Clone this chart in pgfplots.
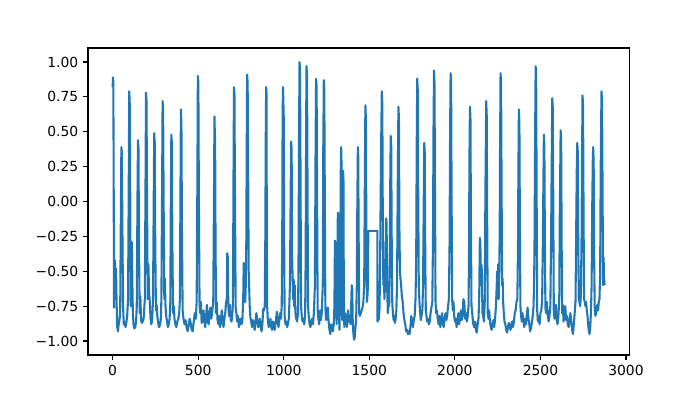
\documentclass[border=0pt]{standalone}
\usepackage{pgfplots}
\pgfplotsset{compat=1.18}
\usepackage{fontspec}
\setmainfont{DejaVu Sans}
\definecolor{tabblue}{HTML}{1F77B4}
\begin{document}
\begin{tikzpicture}
\path[use as bounding box] (-63.36pt,-32.4pt) rectangle (440.64pt,255.6pt);
\begin{axis}[
  at={(0,0)}, anchor=south west,
  scale only axis, width=389.7pt, height=221pt,
  xmin=-144, xmax=3019, ymin=-1.1, ymax=1.1,
  axis line style={line width=0.8pt},
  tick style={line width=0.8pt, black},
  tick align=outside, major tick length=3.5pt,
  xtick pos=bottom, ytick pos=left,
  xtick={0,500,1000,1500,2000,2500,3000},
  xticklabels={0,500,1000,1500,2000,2500,3000},
  ytick={-1,-0.75,-0.5,-0.25,0,0.25,0.5,0.75,1},
  yticklabels={−1.00,−0.75,−0.50,−0.25,0.00,0.25,0.50,0.75,1.00},
  ticklabel style={font=\fontsize{10}{12}\selectfont},
]
\addplot[line width=1.5pt, color=tabblue, line join=round, no markers] coordinates {
(0,0.82) (2,0.89) (4,0.86) (6,0.2) (8,-0.76) (11,-0.62) (14,-0.42) (17,-0.6) (20,-0.48) (23,-0.72) (27,-0.9) (31,-0.93) (35,-0.88) (40,-0.85)
(44,-0.8) (48,-0.1) (51,0.39) (54,0.35) (57,-0.2) (61,-0.75) (65,-0.88) (70,-0.86) (75,-0.9) (80,-0.87) (85,-0.82)
(90,-0.7) (94,0.1) (97,0.79) (100,0.7) (103,0.0) (106,-0.75) (109,-0.5) (112,-0.29) (115,-0.55) (118,-0.8) (122,-0.88) (127,-0.91) (132,-0.9) (137,-0.86)
(141,-0.75) (145,0.0) (148,0.44) (151,0.38) (154,-0.3) (158,-0.8) (162,-0.68) (166,-0.85) (171,-0.87) (176,-0.86) (181,-0.84)
(188,-0.7) (192,0.1) (195,0.78) (198,0.72) (201,0.0) (205,-0.7) (209,-0.45) (213,-0.65) (217,-0.72) (221,-0.83) (226,-0.88) (231,-0.85)
(236,-0.7) (240,0.0) (243,0.49) (246,0.42) (249,-0.3) (253,-0.78) (257,-0.74) (261,-0.82) (266,-0.87) (271,-0.9) (276,-0.89) (281,-0.85)
(285,-0.7) (289,0.1) (292,0.72) (295,0.65) (298,0.0) (302,-0.7) (305,-0.55) (309,-0.75) (313,-0.82) (318,-0.86) (323,-0.9) (328,-0.88) (333,-0.84)
(337,-0.72) (340,0.0) (343,0.48) (346,0.42) (349,-0.3) (353,-0.8) (357,-0.75) (362,-0.85) (367,-0.88) (372,-0.9) (378,-0.86) (384,-0.84) (389,-0.8)
(393,-0.7) (396,0.0) (399,0.66) (402,0.55) (405,-0.2) (409,-0.78) (414,-0.84) (420,-0.88) (426,-0.85) (432,-0.9) (438,-0.93) (444,-0.89) (450,-0.84) (456,-0.87) (462,-0.92) (468,-0.93) (474,-0.86) (480,-0.8) (486,-0.84)
(491,-0.72) (495,0.1) (498,0.90) (501,0.85) (504,0.0) (508,-0.75) (512,-0.8) (516,-0.72) (520,-0.87) (526,-0.85) (531,-0.78) (536,-0.86) (541,-0.9) (546,-0.82) (551,-0.74) (556,-0.86) (561,-0.88) (566,-0.8) (571,-0.76) (576,-0.84) (581,-0.8)
(588,-0.72) (592,0.0) (595,0.61) (597,0.5) (599,0.42) (601,-0.2) (604,-0.8) (608,-0.72) (613,-0.85) (618,-0.88) (623,-0.82) (628,-0.9) (633,-0.85) (638,-0.78) (643,-0.86) (648,-0.9) (653,-0.84) (658,-0.8) (663,-0.72)
(667,-0.7) (670,-0.37) (673,-0.4) (676,-0.75) (680,-0.82) (685,-0.74) (690,-0.85) (695,-0.86) (700,-0.8)
(703,-0.72) (706,0.1) (709,0.82) (712,0.76) (715,0.0) (719,-0.76) (723,-0.8) (728,-0.86) (733,-0.82) (738,-0.9) (743,-0.87) (748,-0.84) (753,-0.88) (758,-0.86) (763,-0.7)
(766,-0.44) (769,-0.46) (772,-0.55) (775,-0.72) (778,-0.6) (781,-0.3) (784,0.5) (786,0.91) (789,0.85) (792,0.2) (795,-0.5) (798,-0.62) (801,-0.75) (805,-0.83) (810,-0.86) (815,-0.9) (820,-0.85) (825,-0.88) (830,-0.92) (835,-0.86) (840,-0.8) (845,-0.85) (850,-0.9) (855,-0.88) (860,-0.84) (865,-0.9) (870,-0.93) (875,-0.88) (880,-0.77) (885,-0.78) (889,-0.75)
(892,-0.3) (895,0.5) (897,0.82) (899,0.78) (901,-0.2) (903,-0.75) (907,-0.85) (912,-0.9) (917,-0.88) (922,-0.84) (927,-0.9) (932,-0.92) (937,-0.86) (942,-0.88) (947,-0.92) (952,-0.87) (957,-0.82) (960,-0.79) (964,-0.86) (969,-0.9) (974,-0.85) (979,-0.8) (984,-0.84) (988,-0.75)
(991,-0.3) (993,0.5) (995,0.82) (997,0.75) (1000,0.6) (1002,-0.2) (1005,-0.82) (1010,-0.88) (1015,-0.86) (1020,-0.9) (1025,-0.87) (1030,-0.84) (1036,-0.6)
(1040,0.0) (1043,0.43) (1046,0.38) (1049,-0.4) (1052,-0.55) (1055,-0.7) (1058,-0.56) (1061,-0.75) (1064,-0.6) (1068,-0.8) (1073,-0.84) (1078,-0.86) (1083,-0.8)
(1086,-0.5) (1089,0.4) (1092,1.0) (1095,0.95) (1098,0.2) (1101,-0.75) (1105,-0.82) (1110,-0.86) (1115,-0.84) (1120,-0.88) (1125,-0.8)
(1128,-0.4) (1131,0.6) (1133,0.97) (1136,0.9) (1139,0.1) (1142,-0.75) (1146,-0.82) (1151,-0.88) (1156,-0.9) (1161,-0.86) (1166,-0.84) (1171,-0.88) (1176,-0.8)
(1182,-0.6) (1186,0.4) (1189,0.88) (1192,0.82) (1195,0.0) (1198,-0.78) (1202,-0.84) (1207,-0.88) (1212,-0.78) (1217,-0.85) (1222,-0.8)
(1228,-0.6) (1231,0.4) (1234,0.87) (1237,0.8) (1240,0.0) (1243,-0.75) (1247,-0.85) (1252,-0.82) (1257,-0.76) (1262,-0.86) (1267,-0.92) (1272,-0.95) (1277,-0.88) (1282,-0.9) (1287,-0.93) (1292,-0.88)
(1296,-0.75) (1299,-0.28) (1302,-0.3) (1305,-0.7) (1309,-0.88) (1313,-0.6) (1316,-0.08) (1319,-0.12) (1322,-0.8) (1326,-0.92) (1330,-0.5) (1333,0.2) (1335,0.39) (1337,0.35) (1339,-0.3) (1342,-0.85) (1344,-0.4) (1347,0.22) (1349,0.15) (1351,-0.7) (1354,-0.9) (1358,-0.8) (1362,-0.88) (1366,-0.82) (1370,-0.9) (1375,-0.78) (1380,-0.86) (1385,-0.82) (1390,-0.88) (1394,-0.75) (1397,-0.6) (1400,-0.62) (1403,-0.85) (1407,-0.95) (1411,-0.99) (1415,-0.97) (1419,-0.9) (1423,-0.85)
(1427,-0.6) (1430,0.0) (1433,0.39) (1435,0.35) (1438,-0.3) (1441,-0.8) (1445,-0.82) (1450,-0.8) (1455,-0.78) (1460,-0.76) (1465,-0.72) (1470,-0.6)
(1473,0.0) (1477,0.69) (1480,0.6) (1483,-0.3) (1486,-0.72) (1489,-0.68) (1492,-0.6)
(1494,-0.21) (1547,-0.21) (1548,-0.86) (1552,-0.85) (1556,-0.84) (1560,-0.75) (1564,-0.3)
(1566,0.0) (1570,0.5) (1573,0.79) (1576,0.7) (1579,-0.2) (1582,-0.6) (1585,-0.45) (1588,-0.7) (1592,-0.6) (1595,-0.4)
(1598,-0.12) (1601,-0.15) (1604,-0.6) (1608,-0.8) (1612,-0.7) (1616,-0.75) (1619,-0.5)
(1622,0.1) (1625,0.47) (1628,0.4) (1631,-0.3) (1634,-0.72) (1638,-0.8) (1642,-0.85) (1646,-0.82) (1650,-0.87) (1654,-0.84) (1658,-0.78) (1662,-0.6)
(1666,0.1) (1670,0.68) (1673,0.6) (1676,-0.2) (1679,-0.5) (1682,-0.55) (1686,-0.6) (1690,-0.68) (1695,-0.72) (1700,-0.8) (1705,-0.85) (1710,-0.88) (1715,-0.93) (1720,-0.92) (1725,-0.95) (1730,-0.93) (1735,-0.95) (1740,-0.9) (1745,-0.82) (1750,-0.86) (1755,-0.9) (1760,-0.85) (1765,-0.82) (1770,-0.7)
(1774,-0.4) (1777,0.4) (1780,0.88) (1783,0.8) (1786,0.0) (1789,-0.6) (1793,-0.72) (1797,-0.8) (1801,-0.85) (1805,-0.82) (1810,-0.78) (1814,-0.6)
(1818,0.0) (1821,0.42) (1824,0.35) (1827,-0.4) (1830,-0.78) (1834,-0.82) (1838,-0.86) (1843,-0.84) (1848,-0.88) (1853,-0.86) (1858,-0.8) (1863,-0.76) (1868,-0.72)
(1872,-0.3) (1875,0.5) (1878,0.94) (1881,0.85) (1884,0.0) (1887,-0.72) (1891,-0.8) (1895,-0.78) (1900,-0.84)
(1905,-0.88) (1910,-0.82) (1915,-0.9) (1920,-0.86) (1925,-0.8) (1930,-0.88) (1935,-0.9) (1940,-0.84) (1945,-0.8) (1950,-0.85) (1955,-0.82) (1960,-0.75) (1965,-0.7)
(1969,-0.3) (1972,0.5) (1975,0.92) (1978,0.86) (1981,0.0) (1984,-0.7) (1988,-0.78) (1992,-0.72) (1996,-0.82) (2000,-0.86) (2005,-0.84) (2010,-0.9) (2015,-0.85) (2020,-0.8) (2025,-0.88) (2030,-0.84) (2035,-0.78) (2040,-0.85) (2045,-0.82) (2050,-0.7) (2055,-0.72) (2060,-0.84) (2065,-0.8) (2070,-0.86) (2075,-0.82) (2080,-0.74)
(2083,-0.3) (2085,0.3) (2088,0.68) (2091,0.6) (2094,-0.2) (2097,-0.75) (2100,-0.78) (2104,-0.84) (2108,-0.88) (2113,-0.9) (2118,-0.86) (2123,-0.92) (2128,-0.94) (2133,-0.88) (2138,-0.84) (2142,-0.7)
(2146,-0.26) (2149,-0.3) (2152,-0.6) (2155,-0.45) (2158,-0.5) (2161,-0.8) (2165,-0.82) (2170,-0.86) (2175,-0.7)
(2178,0.0) (2183,0.72) (2186,0.62) (2189,-0.2) (2192,-0.8) (2196,-0.84) (2200,-0.78) (2205,-0.86) (2210,-0.9) (2215,-0.92) (2220,-0.88) (2225,-0.85) (2230,-0.9) (2235,-0.84) (2240,-0.75)
(2244,-0.62) (2247,-0.5) (2250,-0.65) (2253,-0.45) (2256,-0.7) (2259,-0.55) (2262,-0.2) (2264,0.4) (2267,0.92) (2270,0.85) (2273,0.1) (2276,-0.6) (2279,-0.55) (2282,-0.72) (2286,-0.8) (2290,-0.86) (2295,-0.88) (2300,-0.92) (2305,-0.94) (2310,-0.9) (2315,-0.87) (2320,-0.9) (2325,-0.92) (2330,-0.88) (2335,-0.86) (2340,-0.9) (2345,-0.86) (2350,-0.8) (2355,-0.78) (2360,-0.72) (2365,-0.7)
(2369,-0.3) (2371,0.2) (2374,0.66) (2377,0.58) (2380,-0.2) (2383,-0.75) (2387,-0.82) (2391,-0.86) (2395,-0.8) (2400,-0.85) (2405,-0.9) (2410,-0.84) (2415,-0.88) (2420,-0.82) (2425,-0.76) (2430,-0.84) (2435,-0.88) (2440,-0.93) (2445,-0.9) (2450,-0.87) (2455,-0.82) (2460,-0.75)
(2465,-0.4) (2469,0.5) (2472,0.97) (2475,0.9) (2478,0.0) (2481,-0.78) (2485,-0.86) (2490,-0.82) (2495,-0.88) (2500,-0.8) (2505,-0.78) (2510,-0.7)
(2514,-0.3) (2517,0.1) (2520,0.48) (2523,0.4) (2526,-0.3) (2529,-0.76) (2533,-0.8) (2538,-0.72) (2543,-0.82) (2548,-0.86) (2553,-0.82) (2558,-0.75)
(2562,-0.3) (2566,0.3) (2569,0.74) (2572,0.68) (2575,0.0) (2578,-0.78) (2582,-0.84) (2586,-0.8) (2590,-0.74) (2595,-0.85) (2600,-0.88) (2605,-0.82) (2610,-0.7)
(2613,-0.1) (2618,0.51) (2621,0.45) (2624,-0.3) (2627,-0.8) (2631,-0.74) (2635,-0.86) (2640,-0.8) (2645,-0.75) (2650,-0.85) (2655,-0.82) (2660,-0.88) (2665,-0.9) (2670,-0.85) (2675,-0.8) (2680,-0.86) (2685,-0.92) (2690,-0.95) (2695,-0.88) (2700,-0.8) (2705,-0.72)
(2709,-0.2) (2712,0.2) (2715,0.42) (2718,0.36) (2721,-0.3) (2724,-0.7) (2728,-0.72) (2732,-0.75) (2736,-0.68) (2740,-0.3)
(2743,0.3) (2746,0.76) (2749,0.7) (2752,-0.1) (2755,-0.7) (2759,-0.72) (2763,-0.75) (2767,-0.72) (2771,-0.78) (2775,-0.82) (2779,-0.88) (2783,-0.93) (2787,-0.95) (2791,-0.9) (2795,-0.8) (2799,-0.6)
(2803,0.0) (2806,0.3) (2808,0.39) (2811,0.3) (2814,-0.4) (2817,-0.75) (2821,-0.82) (2825,-0.8) (2829,-0.76) (2833,-0.74) (2837,-0.78) (2841,-0.72) (2845,-0.7) (2849,-0.5)
(2852,0.2) (2855,0.6) (2857,0.79) (2860,0.72) (2863,0.1) (2866,-0.6) (2869,-0.4) (2872,-0.55) (2875,-0.6)
};
\end{axis}
\end{tikzpicture}
\end{document}
